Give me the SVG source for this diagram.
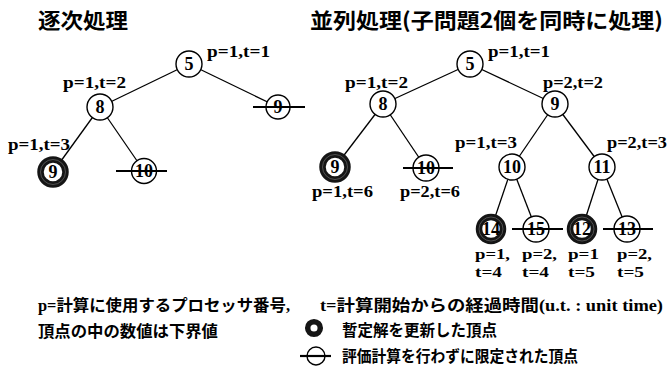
<svg xmlns="http://www.w3.org/2000/svg" width="668" height="368" viewBox="0 0 668 368">
<style>
.edge{stroke:#000;stroke-width:1.3;fill:none}
.n circle{fill:#fff;stroke:#000;stroke-width:1.4}
.t circle{fill:#fff;stroke:#151515;stroke-width:6.5}
.t circle.tex{fill:none;stroke:#777;stroke-width:0.6}
.x line{stroke:#000;stroke-width:2.2}
.num{font-family:"Liberation Serif",serif;font-weight:bold;font-size:18px;text-anchor:middle;fill:#000}
.lbl{font-family:"Liberation Serif",serif;font-weight:bold;font-size:17px;fill:#000}
.lbs{font-family:"Liberation Serif",serif;font-weight:bold;font-size:15px;fill:#000}
.title{font-family:"Noto Sans CJK JP",sans-serif;font-weight:bold;font-size:21px;fill:#000}
.leg{font-family:"Liberation Serif","Noto Sans CJK JP",sans-serif;font-weight:bold;font-size:16px;fill:#000}
</style>
<rect width="668" height="368" fill="#fff"/>
<text class="title" x="38" y="28" textLength="90" lengthAdjust="spacingAndGlyphs">逐次処理</text>
<text class="title" x="310" y="28" textLength="353" lengthAdjust="spacingAndGlyphs">並列処理(子問題2個を同時に処理)</text>

<g id="connectors">
<line class="edge" x1="189" y1="64" x2="100" y2="107"/>
<line class="edge" x1="189" y1="64" x2="278" y2="107"/>
<line class="edge" x1="100" y1="107" x2="53" y2="172"/>
<line class="edge" x1="100" y1="107" x2="144" y2="171"/>
<line class="edge" x1="470" y1="64" x2="383" y2="104"/>
<line class="edge" x1="470" y1="64" x2="555" y2="104"/>
<line class="edge" x1="383" y1="104" x2="335" y2="167"/>
<line class="edge" x1="383" y1="104" x2="426" y2="168"/>
<line class="edge" x1="555" y1="104" x2="512" y2="167"/>
<line class="edge" x1="555" y1="104" x2="602" y2="167"/>
<line class="edge" x1="512" y1="167" x2="491" y2="229"/>
<line class="edge" x1="512" y1="167" x2="536" y2="229"/>
<line class="edge" x1="602" y1="167" x2="582" y2="229"/>
<line class="edge" x1="602" y1="167" x2="627" y2="229"/>
</g>

<!-- left tree -->
<g id="L5" class="n"><circle cx="189" cy="64" r="13"/><text class="num" x="189" y="70">5</text></g>
<text class="lbl" x="207" y="57" textLength="63" lengthAdjust="spacingAndGlyphs">p=1,t=1</text>
<g id="L8" class="n"><circle cx="100" cy="107" r="13"/><text class="num" x="100" y="113">8</text></g>
<text class="lbl" x="63" y="88" textLength="63" lengthAdjust="spacingAndGlyphs">p=1,t=2</text>
<g id="L9x" class="n x"><circle cx="278" cy="107" r="12"/><text class="num" x="278" y="113">9</text><line x1="253" y1="107" x2="305" y2="107"/></g>
<g id="L9t" class="t"><circle cx="53" cy="172" r="12.5"/><circle class="tex" cx="53" cy="172" r="12.5"/><text class="num" x="53" y="178">9</text></g>
<text class="lbl" x="8" y="150" textLength="62" lengthAdjust="spacingAndGlyphs">p=1,t=3</text>
<g id="L10x" class="n x"><circle cx="144" cy="171" r="12.5"/><text class="num" x="144" y="177">10</text><line x1="116" y1="171" x2="167" y2="171"/></g>

<!-- right tree -->
<g id="R5" class="n"><circle cx="470" cy="64" r="13"/><text class="num" x="470" y="70">5</text></g>
<text class="lbl" x="488" y="57" textLength="62" lengthAdjust="spacingAndGlyphs">p=1,t=1</text>
<g id="R8" class="n"><circle cx="383" cy="104" r="13"/><text class="num" x="383" y="110">8</text></g>
<text class="lbl" x="345" y="88" textLength="63" lengthAdjust="spacingAndGlyphs">p=1,t=2</text>
<g id="R9" class="n"><circle cx="555" cy="104" r="13"/><text class="num" x="555" y="110">9</text></g>
<text class="lbl" x="543" y="88" textLength="60" lengthAdjust="spacingAndGlyphs">p=2,t=2</text>
<g id="R9t" class="t"><circle cx="335" cy="167" r="12.5"/><circle class="tex" cx="335" cy="167" r="12.5"/><text class="num" x="335" y="173">9</text></g>
<text class="lbl" x="312" y="197" textLength="61" lengthAdjust="spacingAndGlyphs">p=1,t=6</text>
<g id="R10x" class="n x"><circle cx="426" cy="168" r="13"/><text class="num" x="426" y="174">10</text><line x1="403" y1="168" x2="453" y2="168"/></g>
<text class="lbl" x="400" y="197" textLength="60" lengthAdjust="spacingAndGlyphs">p=2,t=6</text>
<text class="lbl" x="455" y="148" textLength="62" lengthAdjust="spacingAndGlyphs">p=1,t=3</text>
<g id="R10" class="n"><circle cx="512" cy="167" r="13"/><text class="num" x="512" y="173">10</text></g>
<g id="R11" class="n"><circle cx="602" cy="167" r="13"/><text class="num" x="602" y="173">11</text></g>
<text class="lbl" x="607" y="148" textLength="60" lengthAdjust="spacingAndGlyphs">p=2,t=3</text>
<g id="R14t" class="t"><circle cx="491" cy="229" r="12"/><circle class="tex" cx="491" cy="229" r="12"/><text class="num" x="491" y="235">14</text></g>
<g id="R15x" class="n x"><circle cx="536" cy="229" r="13"/><text class="num" x="536" y="235">15</text><line x1="512" y1="229" x2="563" y2="229"/></g>
<g id="R12t" class="t"><circle cx="582" cy="229" r="12"/><circle class="tex" cx="582" cy="229" r="12"/><text class="num" x="582" y="235">12</text></g>
<g id="R13x" class="n x"><circle cx="627" cy="229" r="13"/><text class="num" x="627" y="235">13</text><line x1="603" y1="229" x2="653" y2="229"/></g>
<text class="lbs" x="475" y="259" textLength="35" lengthAdjust="spacingAndGlyphs">p=1,</text>
<text class="lbs" x="475" y="277" textLength="27" lengthAdjust="spacingAndGlyphs">t=4</text>
<text class="lbs" x="522" y="259" textLength="35" lengthAdjust="spacingAndGlyphs">p=2,</text>
<text class="lbs" x="522" y="277" textLength="27" lengthAdjust="spacingAndGlyphs">t=4</text>
<text class="lbs" x="568" y="259" textLength="31" lengthAdjust="spacingAndGlyphs">p=1</text>
<text class="lbs" x="568" y="277" textLength="27" lengthAdjust="spacingAndGlyphs">t=5</text>
<text class="lbs" x="617" y="259" textLength="35" lengthAdjust="spacingAndGlyphs">p=2,</text>
<text class="lbs" x="617" y="277" textLength="27" lengthAdjust="spacingAndGlyphs">t=5</text>

<!-- legend -->
<text class="leg" x="38" y="311" textLength="252" lengthAdjust="spacingAndGlyphs">p=計算に使用するプロセッサ番号,</text>
<text class="leg" x="320" y="311" textLength="343" lengthAdjust="spacingAndGlyphs">t=計算開始からの経過時間(u.t. : unit time)</text>
<text class="leg" x="38" y="337" textLength="180" lengthAdjust="spacingAndGlyphs">頂点の中の数値は下界値</text>
<g id="legend-thick" class="t"><circle cx="314" cy="328" r="6.3" style="stroke-width:5.5"/></g>
<text class="leg" x="342" y="336" textLength="155" lengthAdjust="spacingAndGlyphs">暫定解を更新した頂点</text>
<g id="legend-strike" class="n x"><circle cx="316" cy="356" r="9"/><line x1="300" y1="356" x2="331" y2="356"/></g>
<text class="leg" x="342" y="362" textLength="236" lengthAdjust="spacingAndGlyphs">評価計算を行わずに限定された頂点</text>
</svg>
